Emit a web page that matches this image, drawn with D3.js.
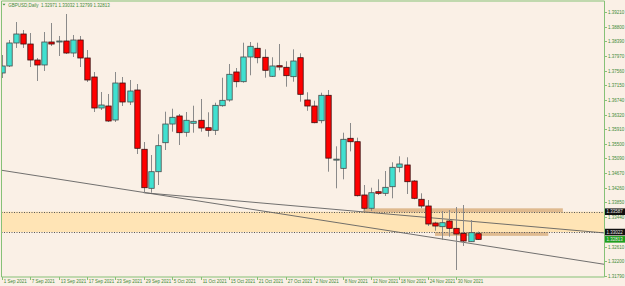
<!DOCTYPE html>
<html><head><meta charset="utf-8">
<script src="https://cdn.jsdelivr.net/npm/d3@7/dist/d3.min.js"></script>
<style>html,body{margin:0;padding:0;background:#faf0e6}svg{display:block}</style>
</head><body><svg id="c" width="625" height="286"></svg>
<script>
const headerText = "GBPUSD,Daily  1.32971 1.33032 1.32799 1.32813";
const opens = [1.37494,1.37691,1.38338,1.38591,1.38309,1.37859,1.37719,1.38366,1.38366,1.38394,
 1.38056,1.38422,1.37916,1.37381,1.36509,1.36565,1.36171,1.37212,1.36678,1.37015,
 1.35347,1.34249,1.34716,1.35532,1.36058,1.36284,1.35825,1.36079,1.36163,1.35954,
 1.35881,1.36573,1.36734,1.37522,1.37249,1.37944,1.38189,1.37936,1.37401,1.37699,
 1.37654,1.37390,1.37924,1.36734,1.36565,1.36151,1.36866,1.35060,1.34811,1.35656,
 1.35560,1.34061,1.33687,1.34153,1.34108,1.34294,1.34840,1.34905,1.34454,1.33940,
 1.33751,1.33273,1.33169,1.33329,1.33123,1.32981,1.32747,1.32971];
const highs = [1.38000,1.38422,1.38928,1.38703,1.38619,1.37916,1.38647,1.38900,1.38535,1.39154,
 1.38563,1.38535,1.38140,1.37522,1.36959,1.36903,1.37522,1.37381,1.37297,1.37184,
 1.35552,1.35186,1.35769,1.36405,1.36489,1.36340,1.36396,1.36573,1.36762,1.36388,
 1.36658,1.37361,1.37747,1.37634,1.38346,1.38366,1.38346,1.38160,1.37936,1.38310,
 1.37823,1.38160,1.38048,1.36951,1.36714,1.36939,1.37015,1.35431,1.35814,1.36087,
 1.35673,1.34342,1.34266,1.34502,1.34736,1.34981,1.35150,1.35122,1.34482,1.34109,
 1.33920,1.33310,1.33611,1.33638,1.33723,1.33779,1.33357,1.33032];
const lows = [1.37353,1.37662,1.38198,1.38198,1.37662,1.37269,1.37550,1.38253,1.37972,1.38028,
 1.37944,1.37662,1.37241,1.36396,1.36452,1.36115,1.36115,1.36565,1.36593,1.35214,
 1.34125,1.34125,1.34342,1.35327,1.35842,1.35467,1.35701,1.35814,1.35842,1.35701,
 1.35749,1.36545,1.36686,1.37091,1.37221,1.37429,1.37767,1.37361,1.37381,1.37570,
 1.37108,1.37249,1.36686,1.36430,1.36079,1.36079,1.34716,1.34249,1.34502,1.35289,
 1.34018,1.33619,1.33610,1.34061,1.34033,1.33968,1.34700,1.34089,1.33940,1.33688,
 1.33188,1.33056,1.32794,1.32887,1.31950,1.32626,1.32738,1.32799];
const closes = [1.37691,1.38338,1.38591,1.38309,1.37859,1.37719,1.38366,1.38309,1.38394,1.38056,
 1.38422,1.37916,1.37297,1.36509,1.36593,1.36143,1.37212,1.36678,1.36987,1.35375,
 1.34266,1.34716,1.35448,1.36058,1.36247,1.35814,1.36163,1.36135,1.35946,1.35881,
 1.36584,1.36725,1.37457,1.37249,1.37944,1.38245,1.37924,1.37570,1.37691,1.37662,
 1.37418,1.37831,1.36894,1.36565,1.36095,1.36866,1.35098,1.35070,1.35628,1.35560,
 1.34041,1.33687,1.34125,1.34108,1.34277,1.34840,1.34933,1.34435,1.33968,1.33751,
 1.33245,1.33188,1.33281,1.33123,1.32963,1.32766,1.33000,1.32813];
const dateLabels = ["1 Sep 2021","7 Sep 2021","13 Sep 2021","17 Sep 2021","23 Sep 2021","29 Sep 2021",
 "5 Oct 2021","11 Oct 2021","15 Oct 2021","21 Oct 2021","27 Oct 2021","2 Nov 2021","8 Nov 2021",
 "12 Nov 2021","18 Nov 2021","24 Nov 2021","30 Nov 2021"];
const dateLabelBars = [0,4,8,12,16,20,24,28,32,36,40,44,48,52,56,60,64];
const priceTicks = [1.39210,1.38800,1.38390,1.37970,1.37560,1.37150,1.36740,1.36320,1.35910,1.35500,
 1.35090,1.34670,1.34260,1.33850,1.33440,1.33020,1.32610,1.32200,1.31790];
const priceTickLabels = ["1.39210","1.38800","1.38390","1.37970","1.37560","1.37150","1.36740","1.36320","1.35910","1.35500",
 "1.35090","1.34670","1.34260","1.33850","1.33440","1.33020","1.32610","1.32200","1.31790"];
const bandLevels = [1.33591, 1.33018];
const bandLabels = ["1.33587", "1.33022"];
const bidPrice = 1.32813;
const bidLabel = "1.32813";
const zoneStartBars = [50.9, 61.0];
const zoneEndBars = [79.0, 76.95];
const zoneTops = [1.33686, 1.33016];
const zoneBottoms = [1.33574, 1.32911];
const trendBarsA = [0, 60];
const trendPricesA = [1.34756, 1.32885];
const trendBarsB = [20, 60];
const trendPricesB = [1.34125, 1.33427];

const svg = d3.select("#c");
const L = 1.5, R = 604.5, T = 1, B = 277;
const x = d3.scaleLinear().domain([0, 64]).range([1.7, 456.3]);
const y = d3.scaleLinear().domain([1.31790, 1.39210]).range([275.7, 12]);
const green = "#86c177", textCol = "#3d8a36";

svg.append("rect").attr("width",625).attr("height",286).attr("fill","#faf0e6");
svg.append("defs").append("clipPath").attr("id","pc").append("rect")
  .attr("x",L).attr("y",T).attr("width",R-L).attr("height",B-T);
const g = svg.append("g").attr("clip-path","url(#pc)");

// horizontal band
g.append("rect").attr("x",L).attr("width",R-L)
  .attr("y",y(bandLevels[0])).attr("height",y(bandLevels[1])-y(bandLevels[0]))
  .attr("fill","#ffe4b5");
// zones
zoneStartBars.forEach((s,i)=>{
  g.append("rect").attr("x",x(s)).attr("width",x(zoneEndBars[i])-x(s))
   .attr("y",y(zoneTops[i])).attr("height",y(zoneBottoms[i])-y(zoneTops[i]))
   .attr("fill","#dbb485").attr("opacity",0.9);
});
bandLevels.forEach(v=>{
  g.append("line").attr("x1",L).attr("x2",R).attr("y1",Math.round(y(v))+0.5).attr("y2",Math.round(y(v))+0.5)
   .attr("stroke","#5a5a5a").attr("stroke-width",1).attr("stroke-dasharray","1,1.5");
});
// trendlines
function tl(bars, prices, extendLeft){
  const slope = (prices[1]-prices[0])/(bars[1]-bars[0]);
  const b0 = extendLeft ? x.invert(L-2) : bars[0];
  const b1 = x.invert(R+2);
  g.append("line").attr("x1",x(b0)).attr("y1",y(prices[0]+slope*(b0-bars[0])))
   .attr("x2",x(b1)).attr("y2",y(prices[0]+slope*(b1-bars[0])))
   .attr("stroke","#616161").attr("stroke-width",0.9);
}
tl(trendBarsA, trendPricesA, true);
tl(trendBarsB, trendPricesB, false);

// candles
const bw = 5.4;
opens.forEach((o,i)=>{
  const c = closes[i], cx = Math.round(x(i))+0.5;
  g.append("line").attr("x1",cx).attr("x2",cx).attr("y1",y(highs[i])).attr("y2",y(lows[i]))
   .attr("stroke","#8a8a8a").attr("stroke-width",1);
  const top = y(Math.max(o,c)), bot = y(Math.min(o,c));
  g.append("rect").attr("x",cx-bw/2).attr("width",bw)
   .attr("y",top).attr("height",Math.max(bot-top,1))
   .attr("fill", c>=o ? "#40e0d0" : "#ff0000")
   .attr("stroke", c>=o ? "#4a4a4a" : "#3a1010").attr("stroke-width",0.8);
});

// frame
svg.append("line").attr("x1",L).attr("x2",L).attr("y1",T).attr("y2",B).attr("stroke",green);
svg.append("line").attr("x1",L).attr("x2",R).attr("y1",T).attr("y2",T).attr("stroke",green);
svg.append("line").attr("x1",R).attr("x2",R).attr("y1",T).attr("y2",B).attr("stroke",green);
svg.append("line").attr("x1",L).attr("x2",R).attr("y1",B).attr("y2",B).attr("stroke",green);

const font = "Liberation Sans, Arial, sans-serif";
// price axis
priceTicks.forEach((v,i)=>{
  const yy = Math.round(y(v))+0.5;
  svg.append("line").attr("x1",R).attr("x2",R+2.5).attr("y1",yy).attr("y2",yy).attr("stroke",green);
  svg.append("text").attr("x",R+3.5).attr("y",yy).attr("dy","0.35em")
   .attr("font-family",font).attr("font-size",4.5).attr("fill",textCol).text(priceTickLabels[i]);
});
// date axis
dateLabelBars.forEach((b,i)=>{
  const xx = Math.round(x(b))+0.5;
  svg.append("line").attr("x1",xx).attr("x2",xx).attr("y1",B).attr("y2",B+3).attr("stroke",green);
  svg.append("text").attr("x",xx+1.2).attr("y",281.5).attr("dy","0.35em")
   .attr("font-family",font).attr("font-size",4.5).attr("fill",textCol).text(dateLabels[i]);
});
// price labels
function plabel(v, txt, bg){
  const yy = y(v);
  svg.append("rect").attr("x",R+0.5).attr("y",yy-3.3).attr("width",20).attr("height",6.6).attr("fill",bg);
  svg.append("text").attr("x",R+2).attr("y",yy).attr("dy","0.35em")
   .attr("font-family",font).attr("font-size",4.5).attr("fill","#e8e8e8").text(txt);
}
plabel(bandLevels[0], bandLabels[0], "#111");
plabel(bandLevels[1], bandLabels[1], "#111");
plabel(bidPrice, bidLabel, "#1e9e1e");

// header
svg.append("path").attr("d","M2.5,3.8 L5.5,3.8 L4,5.6 Z").attr("fill","#3c8f35");
svg.append("text").attr("x",8.3).attr("y",5).attr("dy","0.35em").attr("xml:space","preserve")
  .style("white-space","pre")
  .attr("font-family",font).attr("font-size",4.5).attr("fill",textCol).text(headerText);
</script></body></html>
